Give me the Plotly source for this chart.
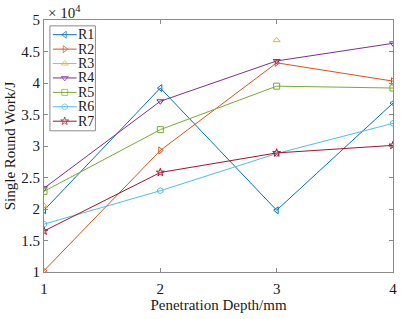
import plotly.graph_objects as go

depth = [1, 2, 3, 4]
series_names = ["R1", "R2", "R3", "R4", "R5", "R6", "R7"]
R1 = [1.98, 3.92, 1.98, 3.68]
R2 = [1.02, 2.93, 4.32, 4.03]
R3 = [2.05, None, 4.68, None]
R4 = [2.33, 3.71, 4.35, 4.63]
R5 = [2.28, 3.26, 3.95, 3.92]
R6 = [1.76, 2.29, 2.88, 3.36]
R7 = [1.65, 2.58, 2.89, 3.01]
values = [R1, R2, R3, R4, R5, R6, R7]
colors = ["#0072BD", "#D95319", "#EDB120", "#7E2F8E", "#77AC30", "#4DBEEE", "#A2142F"]
markers = ["triangle-left-open", "triangle-right-open", "triangle-up-open",
           "triangle-down-open", "square-open", "hexagon-open", "star-open"]
y_ticks = [1, 1.5, 2, 2.5, 3, 3.5, 4, 4.5, 5]
y_labels = ["1", "1.5", "2", "2.5", "3", "3.5", "4", "4.5", "5"]
x_ticks = [1, 2, 3, 4]
x_labels = ["1", "2", "3", "4"]

FONT = "Liberation Serif"
TXT = "#1a1a1a"
AX = "#8a8a8a"
FS = 15
FS_LEG = 14

W, H = 406, 319
ML, MR, MT, MB = 44, 9, 20, 42
PX0, PX1 = ML, W - MR
PY0, PY1 = MT, H - MB

fig = go.Figure()
for name, vals, c, m in zip(series_names, values, colors, markers):
    fig.add_trace(go.Scatter(
        x=depth, y=vals, name=name, mode="lines+markers",
        line=dict(color=c, width=1),
        marker=dict(symbol=m, size=6, color=c, line=dict(width=1, color=c)),
        connectgaps=False, showlegend=False,
    ))

# ---- custom compact legend on a pixel-coordinate overlay axis ----
box_l, box_r, box_t, box_b = 50, 96, 26, 133
row0, row_dy = 35, 14.7
fig.add_trace(go.Scatter(
    x=[box_l, box_r, box_r, box_l, box_l], y=[box_t, box_t, box_b, box_b, box_t],
    mode="lines", fill="toself", fillcolor="white",
    line=dict(color=AX, width=1), xaxis="x2", yaxis="y2",
    showlegend=False, hoverinfo="skip",
))
for i, (name, c, m) in enumerate(zip(series_names, colors, markers)):
    ry = row0 + i * row_dy
    fig.add_trace(go.Scatter(
        x=[53, 65, 77], y=[ry, ry, ry], mode="lines+markers",
        line=dict(color=c, width=1),
        marker=dict(symbol=m, size=[0, 6, 0], color=c, line=dict(width=1, color=c)),
        xaxis="x2", yaxis="y2", showlegend=False, hoverinfo="skip",
    ))
    fig.add_annotation(text=name, x=77, y=ry, xref="x2", yref="y2",
                       xanchor="left", yanchor="middle", showarrow=False,
                       height=13, valign="middle", borderpad=0,
                       font=dict(family=FONT, size=FS_LEG, color=TXT))

axis_common = dict(
    showline=True, linecolor=AX, linewidth=1, mirror="ticks",
    ticks="inside", ticklen=4, tickcolor=AX, showgrid=False, zeroline=False,
    tickfont=dict(family=FONT, size=FS, color=TXT),
)

fig.update_layout(
    width=W, height=H,
    margin=dict(l=ML, r=MR, t=MT, b=MB),
    paper_bgcolor="white", plot_bgcolor="white",
    font=dict(family=FONT, size=FS, color=TXT),
    xaxis=dict(range=[0.9999, 4.0001], tickvals=x_ticks, ticktext=x_labels,
               ticklabelstandoff=3,
               title=dict(text="Penetration Depth/mm", font=dict(family=FONT, size=FS), standoff=2),
               **axis_common),
    yaxis=dict(range=[0.9999, 5.0001], tickvals=y_ticks, ticktext=y_labels,
               title=dict(text="Single Round Work/J", font=dict(family=FONT, size=FS), standoff=2),
               **axis_common),
    xaxis2=dict(overlaying="x", range=[PX0, PX1], visible=False, fixedrange=True),
    yaxis2=dict(overlaying="y", range=[PY1, PY0], visible=False, fixedrange=True),
    showlegend=False,
)
fig.add_annotation(text="× 10<sup>4</sup>", xref="paper", yref="paper",
                   x=0.005, y=1.0, xanchor="left", yanchor="bottom", showarrow=False,
                   font=dict(family=FONT, size=FS, color=TXT), yshift=-3)

fig.write_html("out.html", config={"displayModeBar": False},
               post_script="document.body.style.margin='0';document.body.style.padding='0';")
